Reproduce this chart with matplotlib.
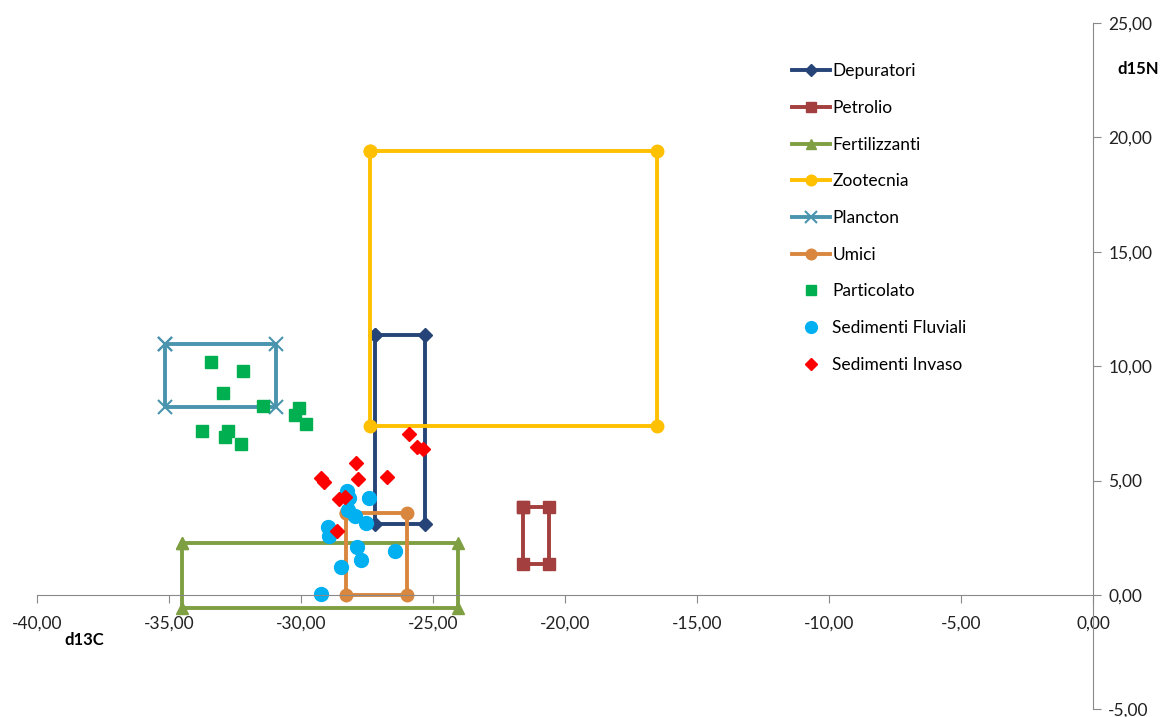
import numpy as np
import matplotlib.pyplot as plt
from matplotlib.ticker import FuncFormatter, MultipleLocator

plt.rcParams['font.family'] = ['Lato', 'DejaVu Sans']

# Source boxes (d13C min/max, d15N min/max)
box_names = ['Depuratori', 'Petrolio', 'Fertilizzanti', 'Zootecnia', 'Plancton', 'Umici']
box_x = [(-27.2, -25.3), (-21.6, -20.6), (-34.5, -24.05), (-27.4, -16.5), (-35.15, -30.95), (-28.3, -26.0)]
box_y = [(3.1, 11.35), (1.35, 3.84), (-0.57, 2.28), (7.38, 19.4), (8.21, 10.97), (0.0, 3.58)]
box_colors = ['#264478', '#A33F3E', '#7F9F43', '#FFC000', '#4A94AE', '#D9873F']
box_markers = ['D', 's', '^', 'o', 'x', 'o']
box_msize = [7, 9, 9, 9, 10, 9]

# Particolato
part_x = [-33.41, -32.19, -32.94, -31.43, -30.06, -30.23, -29.82, -33.76, -32.75, -32.88, -32.28]
part_y = [10.19, 9.79, 8.81, 8.26, 8.16, 7.86, 7.46, 7.16, 7.16, 6.92, 6.58]

# Sedimenti Fluviali
flu_x = [-28.27, -28.17, -27.42, -28.23, -27.95, -27.54, -28.99, -28.94, -27.89, -26.44, -27.74, -28.5, -29.25]
flu_y = [4.56, 4.22, 4.22, 3.71, 3.45, 3.13, 2.98, 2.58, 2.11, 1.94, 1.53, 1.24, 0.03]

# Sedimenti Invaso
inv_x = [-25.9, -25.62, -25.39, -27.93, -29.25, -29.12, -27.83, -26.75, -28.55, -28.33, -28.65]
inv_y = [7.02, 6.45, 6.37, 5.75, 5.1, 4.92, 5.07, 5.14, 4.18, 4.27, 2.81]

fig = plt.figure(figsize=(11.64, 7.17), dpi=100)
ax = fig.add_axes([0.0318, 0.0105, 0.9072, 0.9578])

handles = []
for name, (x0, x1), (y0, y1), c, m, ms in zip(box_names, box_x, box_y, box_colors, box_markers, box_msize):
    xs = [x0, x1, x1, x0, x0]
    ys = [y1, y1, y0, y0, y1]
    line, = ax.plot(xs, ys, color=c, lw=2.8, marker=m, markersize=ms,
                    markeredgewidth=1.5 if m == 'x' else 1, label=name)
    handles.append(line)

h1, = ax.plot(part_x, part_y, ls='none', marker='s', markersize=9, color='#00B050', label='Particolato')
h2, = ax.plot(flu_x, flu_y, ls='none', marker='o', markersize=10, color='#00B0F0', label='Sedimenti Fluviali')
h3, = ax.plot(inv_x, inv_y, ls='none', marker='D', markersize=7, color='#FF0000', label='Sedimenti Invaso')
handles += [h1, h2, h3]

ax.set_xlim(-40, 0)
ax.set_ylim(-5, 25)

for s in ['top', 'left']:
    ax.spines[s].set_visible(False)
ax.spines['bottom'].set_position(('data', 0))
ax.spines['bottom'].set_color('#898989')
ax.spines['right'].set_color('#898989')
ax.yaxis.tick_right()

fmt = FuncFormatter(lambda v, p: f"{v:.2f}".replace('.', ','))
ax.xaxis.set_major_locator(MultipleLocator(5))
ax.yaxis.set_major_locator(MultipleLocator(5))
ax.xaxis.set_major_formatter(fmt)
ax.yaxis.set_major_formatter(fmt)
ax.tick_params(axis='x', direction='out', length=6, color='#898989', labelsize=12.5, labelcolor='#222222', pad=9)
ax.tick_params(axis='y', direction='out', length=6, color='#898989', labelsize=12.5, labelcolor='#222222', pad=5)

ax.text(-38.2, -1.95, 'd13C', fontsize=12, fontweight='bold', ha='center', va='center')
ax.text(1.7, 23.0, 'd15N', fontsize=12, fontweight='bold', ha='center', va='center', clip_on=False)

ax.legend(handles=handles, loc='upper left', bbox_to_anchor=(0.708, 0.951), frameon=False,
          fontsize=12.5, labelspacing=1.19, handlelength=2.2, handletextpad=0.15, borderaxespad=0,
          markerscale=0.85)

fig.savefig('out.png', dpi=100)
